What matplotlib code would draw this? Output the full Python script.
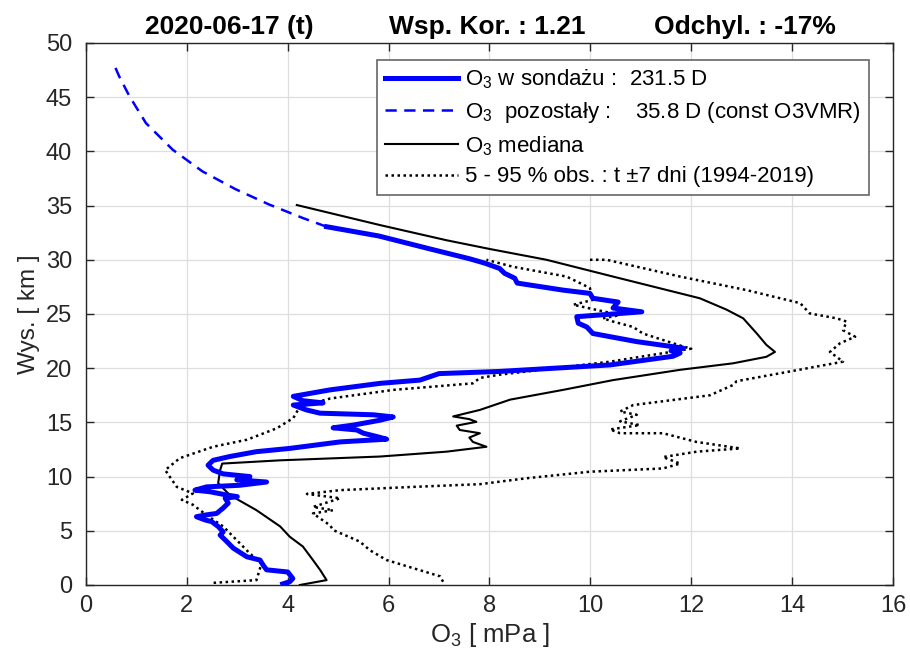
import matplotlib
matplotlib.use("Agg")
import matplotlib.pyplot as plt

plt.rcParams["font.family"] = ["Liberation Sans", "DejaVu Sans"]
plt.rcParams["mathtext.fontset"] = "custom"
plt.rcParams["mathtext.rm"] = "Liberation Sans"
plt.rcParams["mathtext.it"] = "Liberation Sans"

# O3 partial pressure [mPa] vs altitude [km]
sounding_x = [3.9, 4.04, 4.1, 4.0, 3.58, 3.51, 3.45, 3.19, 2.92, 2.76, 2.66, 2.72, 2.62, 2.49, 2.36,
              2.19, 2.36, 2.59, 2.72, 2.82, 2.76, 3.0, 2.79, 2.46, 2.16, 2.39, 3.05, 3.58, 2.99, 3.25,
              2.72, 2.52, 2.42, 2.52, 2.85, 3.38, 4.04, 5.04, 5.96, 5.76, 5.5, 5.37, 4.9, 5.3, 5.83,
              6.09, 5.7, 4.64, 4.37, 4.11, 4.7, 4.3, 4.11, 4.84, 5.83, 6.62, 7.0, 8.2, 10.39, 11.64,
              11.78, 11.6, 11.84, 10.92, 10.05, 9.93, 9.76, 9.73, 10.45, 11.02, 10.45, 10.55, 10.05,
              9.99, 9.46, 8.55, 8.5, 8.3, 8.2, 7.9, 7.6, 6.82, 5.8, 4.77]
sounding_y = [0.1, 0.3, 0.6, 1.2, 1.4, 1.85, 2.3, 2.6, 3.4, 4.15, 4.6, 4.9, 5.4, 5.85, 6.0,
              6.3, 6.45, 6.6, 7.1, 7.55, 8.0, 8.15, 8.3, 8.6, 8.75, 9.05, 9.2, 9.5, 9.7, 10.0,
              10.25, 10.6, 11.05, 11.5, 11.85, 12.3, 12.6, 13.2, 13.45, 13.7, 14.0, 14.3, 14.5, 14.75, 15.2,
              15.5, 15.7, 15.85, 16.15, 16.6, 16.8, 17.0, 17.4, 18.0, 18.6, 18.9, 19.5, 19.7, 20.3, 21.1,
              21.4, 21.6, 21.85, 22.45, 23.2, 23.8, 24.15, 24.75, 25.0, 25.2, 25.55, 26.1, 26.45,
              26.9, 27.2, 27.85, 28.3, 28.75, 29.2, 29.7, 30.1, 31.0, 32.2, 33.05]

rest_x = [4.77, 4.3, 3.63, 2.97, 2.31, 1.72, 1.19, 0.86, 0.66, 0.58]
rest_y = [33.05, 33.85, 35.1, 36.5, 38.15, 40.15, 42.6, 45.1, 46.9, 47.75]

median_x = [4.24, 4.77, 4.64, 4.5, 4.3, 4.04, 3.85, 3.38, 2.85, 2.62, 2.66, 2.7, 3.85, 5.83, 7.15,
            7.94, 7.67, 7.6, 7.81, 7.41, 7.35, 7.74, 7.6, 7.28, 7.81, 8.41, 9.46, 10.45, 11.78, 12.83,
            13.49, 13.66, 13.49, 13.3, 13.03, 12.7, 12.17, 10.45, 9.13, 8.0, 7.15, 5.83, 4.18]
median_y = [0.0, 0.45, 1.4, 2.3, 3.55, 4.45, 5.4, 6.9, 8.3, 9.4, 10.6, 11.2, 11.5, 11.85, 12.3,
            12.75, 13.2, 13.6, 14.0, 14.3, 14.7, 15.05, 15.3, 15.55, 16.15, 17.1, 18.0, 18.9, 19.85, 20.45,
            21.05, 21.5, 22.15, 23.2, 24.6, 25.4, 26.45, 28.45, 30.0, 31.0, 31.8, 33.2, 35.05]

p05_x = [2.53, 3.38, 3.48, 3.25, 3.05, 2.72, 2.39, 2.12, 1.9, 2.12, 1.8, 1.57, 1.86, 2.52, 3.19,
         3.78, 4.11, 4.24, 4.84, 6.1, 7.67, 7.81, 8.2, 10.39, 12.0, 11.84, 11.04, 10.85, 10.45, 10.25,
         10.59, 9.66, 10.05, 9.99, 9.53, 8.47, 7.94]
p05_y = [0.2, 0.45, 2.0, 2.9, 3.85, 5.4, 6.45, 7.4, 7.85, 8.45, 9.05, 10.6, 11.7, 12.75, 13.4,
         14.45, 15.4, 16.45, 17.2, 18.0, 18.6, 19.1, 19.4, 20.6, 21.8, 22.0, 23.2, 23.8, 24.3, 24.6,
         24.9, 25.85, 26.3, 27.4, 28.45, 29.35, 30.0]

p95_x = [7.08, 7.02, 5.96, 5.63, 5.43, 4.9, 4.84, 4.5, 4.9, 4.5, 5.04, 4.38, 5.04, 6.49, 7.81,
         8.74, 9.99, 11.44, 11.78, 11.44, 12.11, 12.97, 12.1, 11.44, 10.59, 10.39, 10.98, 10.59, 10.92,
         10.59, 10.85, 12.37, 12.83, 12.9, 13.96, 15.01, 14.75, 14.95, 15.25, 15.01, 15.08, 14.88,
         14.35, 14.16, 13.1, 11.78, 10.32, 9.95]
p95_y = [0.3, 0.8, 2.3, 3.2, 4.0, 5.07, 5.5, 6.6, 6.9, 7.2, 8.0, 8.4, 8.75, 9.05, 9.3,
         9.85, 10.45, 10.75, 11.2, 11.8, 12.3, 12.6, 13.2, 14.0, 14.0, 14.35, 14.75, 15.1, 15.7,
         16.0, 16.6, 17.5, 18.45, 18.8, 19.7, 20.6, 21.5, 22.3, 22.9, 23.5, 24.3, 24.6,
         25.05, 26.0, 27.2, 28.45, 30.0, 30.0]

x_ticks = [0, 2, 4, 6, 8, 10, 12, 14, 16]
y_ticks = [0, 5, 10, 15, 20, 25, 30, 35, 40, 45, 50]

fig = plt.figure(figsize=(9.1, 6.57), dpi=100)
ax = fig.add_axes([0.0945, 0.1096, 0.8868, 0.825])

ax.plot(sounding_x, sounding_y, color="blue", lw=3.6, solid_joinstyle="round",
        label="O$_3$ w sondażu :  231.5 D", zorder=4)
ax.plot(rest_x, rest_y, color="blue", lw=1.8, linestyle=(0, (4.5, 3)),
        label="O$_3$  pozostały :    35.8 D (const O3VMR)", zorder=4)
ax.plot(median_x, median_y, color="black", lw=1.5, label="O$_3$ mediana", zorder=3)
ax.plot(p05_x, p05_y, color="black", lw=1.8, linestyle=(0, (1, 1.4)),
        label="5 - 95 % obs. : t ±7 dni (1994-2019)", zorder=3)
ax.plot(p95_x, p95_y, color="black", lw=1.8, linestyle=(0, (1, 1.4)), zorder=3)

ax.set_xlim(0, 16)
ax.set_ylim(0, 50)
ax.set_xticks(x_ticks)
ax.set_yticks(y_ticks)
ax.tick_params(direction="in", length=6, width=1, labelsize=17, colors="0.15",
               top=True, right=True)
ax.tick_params(axis="x", pad=7)
ax.tick_params(axis="y", pad=10)
for s in ax.spines.values():
    s.set_color("0.15")
    s.set_linewidth(1)
ax.grid(True, color="0.87", lw=0.9)
ax.set_axisbelow(True)

ax.set_xlabel("O$_3$ [ mPa ]", fontsize=18.5, color="0.15", labelpad=3)
ax.set_ylabel("Wys. [ km ]", fontsize=17.5, color="0.15", labelpad=4)

leg = ax.legend(loc="upper right", bbox_to_anchor=(0.97, 0.969), borderaxespad=0,
                fontsize=16, handlelength=3.3, handletextpad=0.3, labelspacing=0.4,
                borderpad=0.35, fancybox=False, framealpha=1)
leg.get_frame().set_edgecolor("0.4")
leg.get_frame().set_linewidth(1.2)

fig.text(0.252, 0.959, "2020-06-17 (t)", fontsize=19, fontweight="bold", ha="center", va="center")
fig.text(0.535, 0.959, "Wsp. Kor. : 1.21", fontsize=19, fontweight="bold", ha="center", va="center")
fig.text(0.819, 0.959, "Odchyl. : -17%", fontsize=19, fontweight="bold", ha="center", va="center")

plt.savefig("out.png", dpi=100)
